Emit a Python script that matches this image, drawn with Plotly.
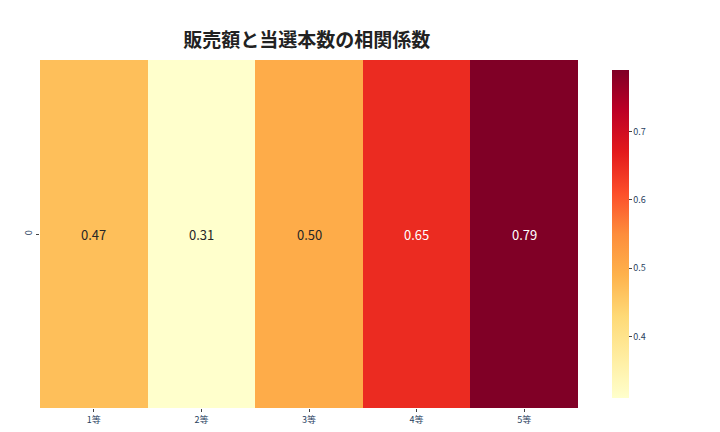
import plotly.graph_objects as go

categories = ["1等", "2等", "3等", "4等", "5等"]
values = [0.47, 0.31, 0.50, 0.65, 0.79]
row_labels = ["0"]

ylorrd = ["#ffffcc", "#ffeda0", "#fed976", "#feb24c", "#fd8d3c", "#fc4e2a", "#e31a1c", "#bd0026", "#800026"]
cs = [[i / (len(ylorrd) - 1), c] for i, c in enumerate(ylorrd)]
vmin, vmax = min(values), max(values)

fig = go.Figure(go.Heatmap(
    z=[values], x=categories, y=row_labels, colorscale=cs, zmin=vmin, zmax=vmax,
    xgap=0, ygap=0,
    colorbar=dict(thickness=17, len=1, lenmode="fraction", x=1.0, xanchor="left", xpad=34,
                  tickvals=[0.4, 0.5, 0.6, 0.7], ticks="outside", ticklen=3,
                  tickfont=dict(size=9, family="Noto Sans CJK JP"), outlinewidth=0),
))
for c, v in zip(categories, values):
    col = "white" if (v - vmin) / (vmax - vmin) > 0.6 else "#262626"
    fig.add_annotation(x=c, y="0", text=f"{v:.2f}", showarrow=False,
                       font=dict(size=13, color=col, family="Noto Sans CJK JP"))

fig.update_layout(
    width=720, height=432, plot_bgcolor="white", paper_bgcolor="white",
    margin=dict(l=32, r=150, t=52, b=32),
    title=dict(text="<b>販売額と当選本数の相関係数</b>", x=0.415, xanchor="center", y=0.94,
               font=dict(size=19, family="Noto Sans CJK JP", color="#222")),
    xaxis=dict(ticks="outside", ticklen=3, tickfont=dict(size=9, family="Noto Sans CJK JP"), showgrid=False),
    yaxis=dict(ticks="outside", ticklen=3, tickangle=-90, tickfont=dict(size=9, family="Noto Sans CJK JP"), showgrid=False),
)
fig.write_html("out.html")
